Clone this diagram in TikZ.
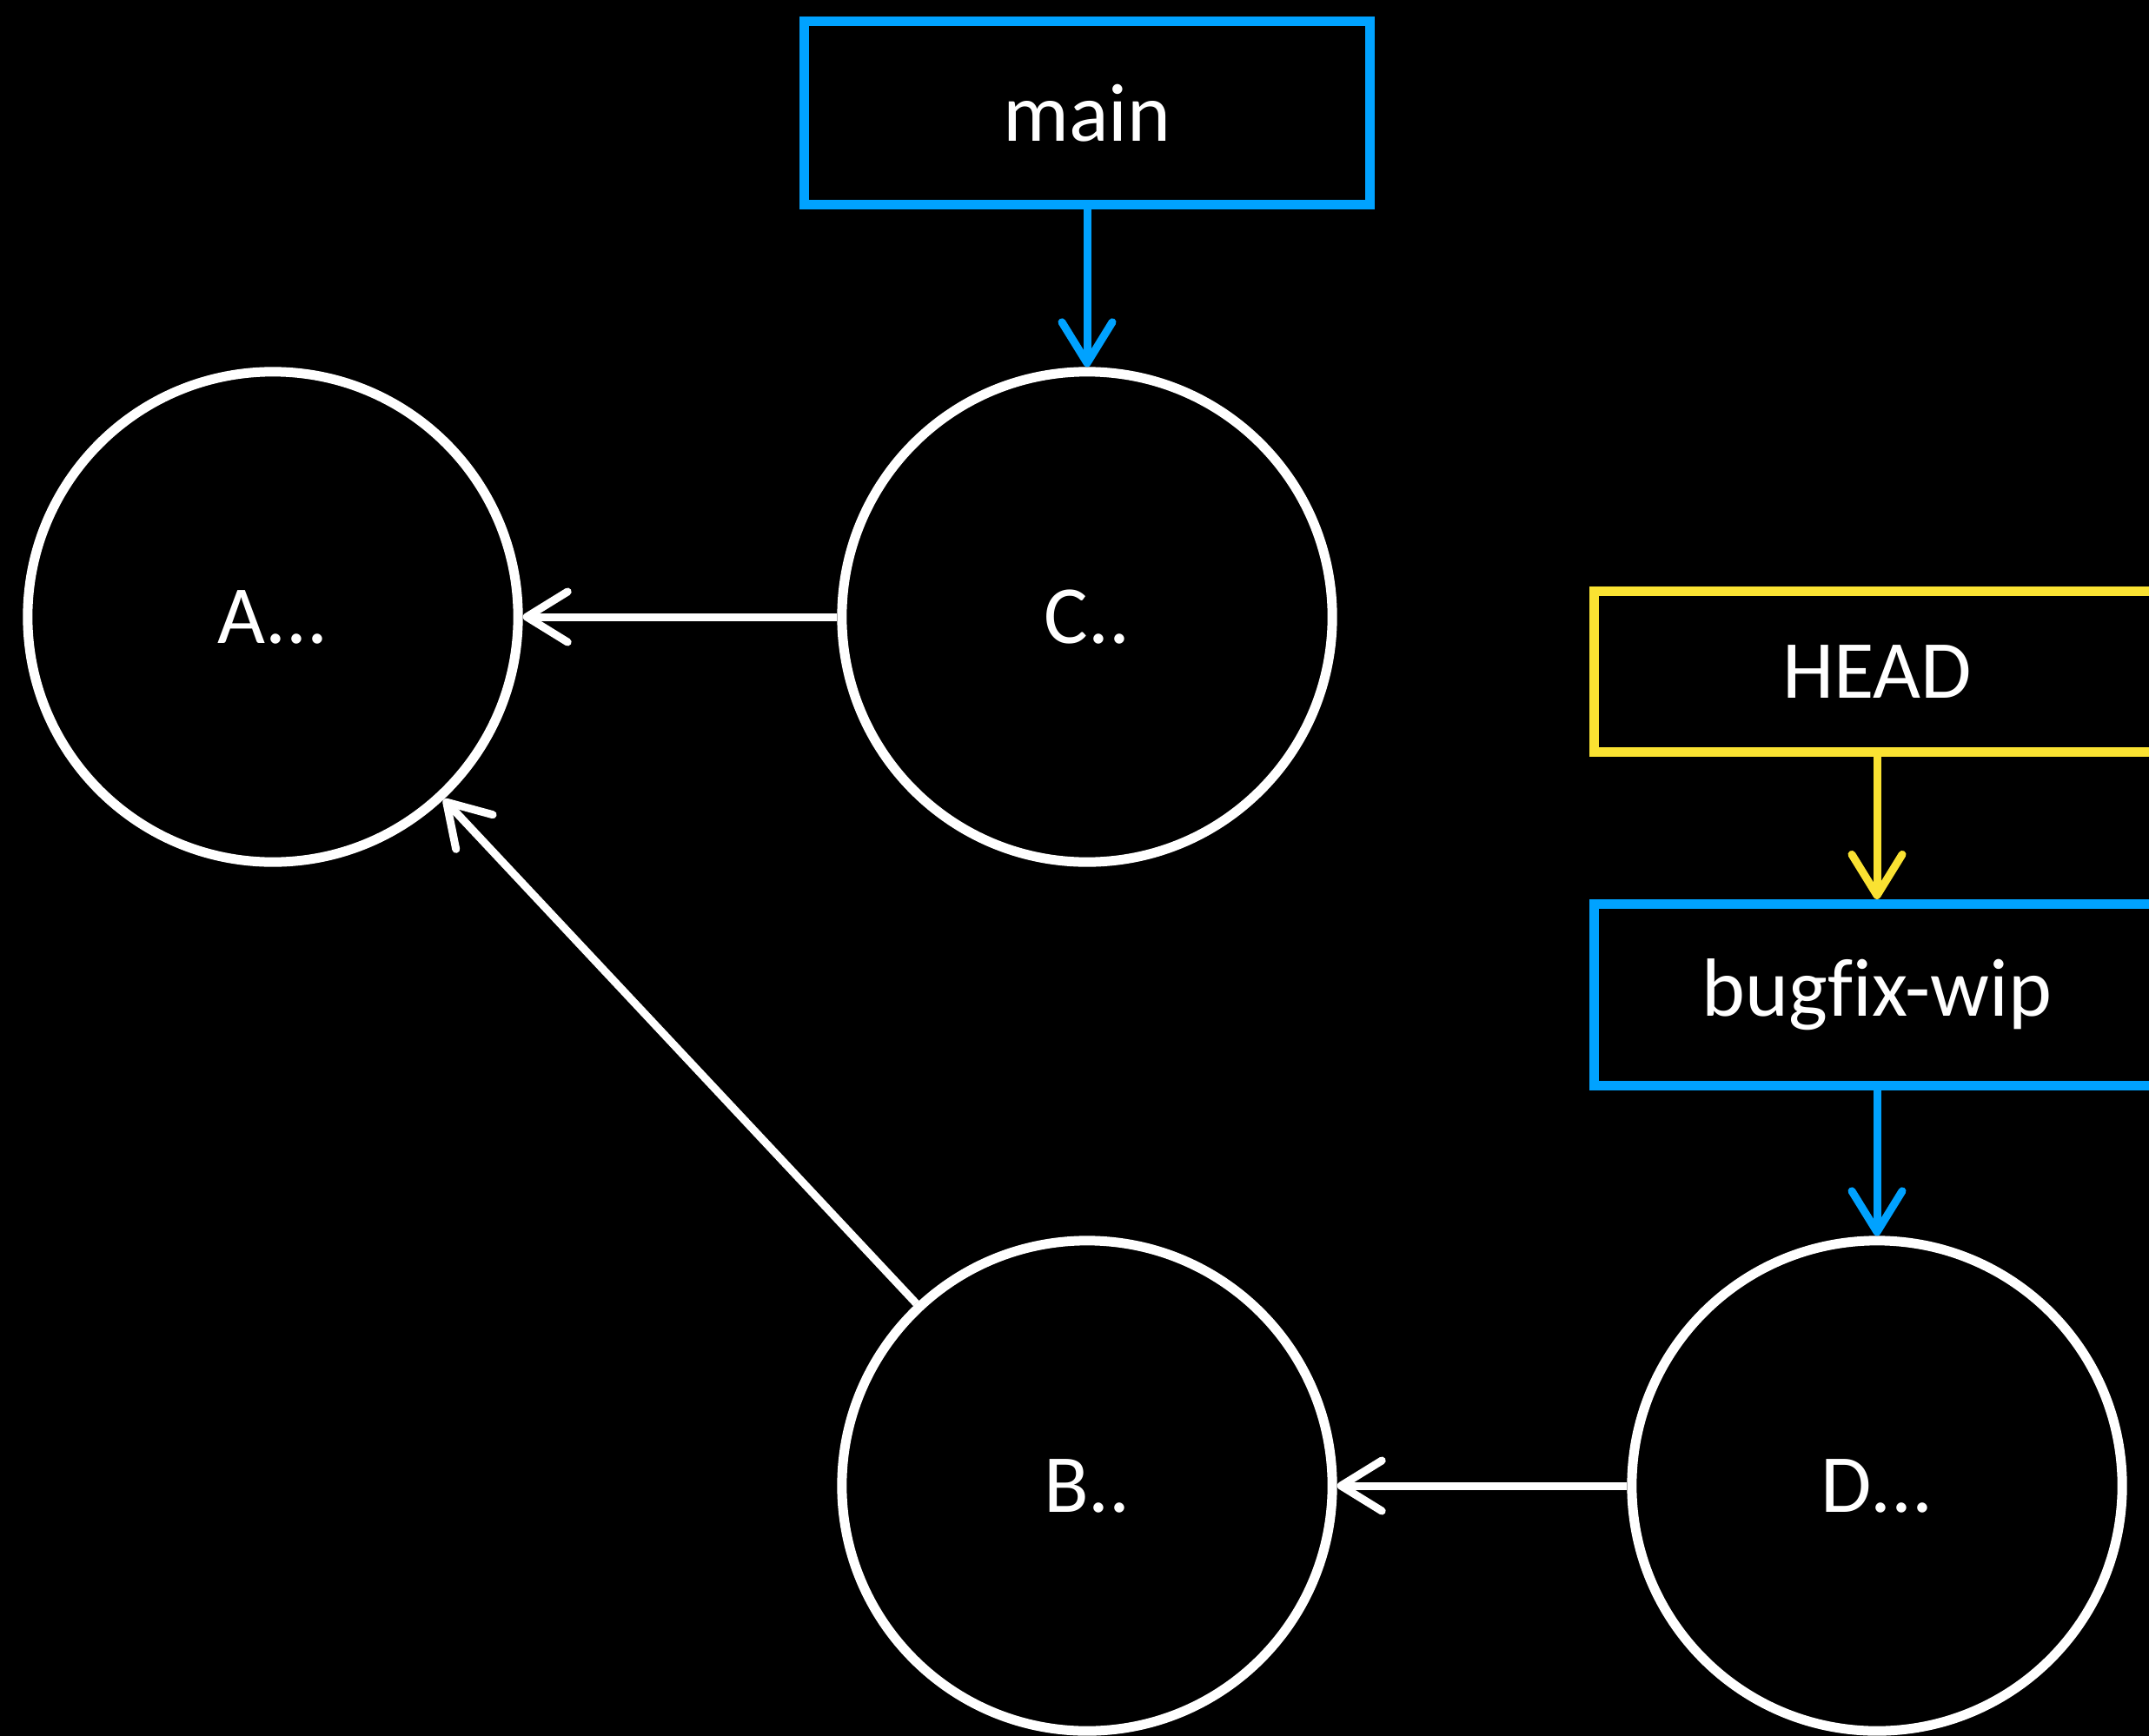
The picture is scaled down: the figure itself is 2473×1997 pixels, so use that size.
\documentclass[tikz,border=0pt]{standalone}
\usepackage{fontspec}
\setmainfont{Carlito}[Ligatures=NoCommon]
\usetikzlibrary{arrows.meta}
\definecolor{gblue}{RGB}{0,162,255}
\definecolor{gyellow}{RGB}{250,226,50}
\tikzset{
  commit/.style={circle, draw=white, line width=0.11cm, minimum size=5.64cm, inner sep=0pt, text=white, font=\fontsize{27}{30}\selectfont},
  refbox/.style={rectangle, line width=0.11cm, minimum width=6.5cm, inner sep=0pt, text=white, font=\fontsize{27}{30}\selectfont},
  conn/.style={line width=0.09cm, -{Straight Barb[length=0.47cm,width=0.58cm,round]}},
}
\begin{document}
\begin{tikzpicture}[x=0.01cm,y=-0.01cm]
\useasboundingbox (0,0) rectangle (2473,1997);
\fill[black] (-20,-20) rectangle (2493,2017);
\node[commit] (A) at (314,710) {A...};
\node[commit] (C) at (1251,710) {C..};
\node[commit] (B) at (1251,1710) {B..};
\node[commit] (D) at (2160,1710) {D...};
\node[refbox, draw=gblue, minimum height=2.11cm] (main) at (1251,130) {main};
\node[refbox, draw=gyellow, minimum height=1.85cm] (head) at (2160,773) {HEAD};
\node[refbox, draw=gblue, minimum height=2.09cm] (bug) at (2160,1145) {bugf\kern0pt ix-wip};
\draw[conn, gblue] (main) -- (C);
\draw[conn, gyellow] (head) -- (bug);
\draw[conn, gblue] (bug) -- (D);
\draw[conn, white] (C) -- (A);
\draw[conn, white] (B) -- (A);
\draw[conn, white] (D) -- (B);
\end{tikzpicture}
\end{document}
